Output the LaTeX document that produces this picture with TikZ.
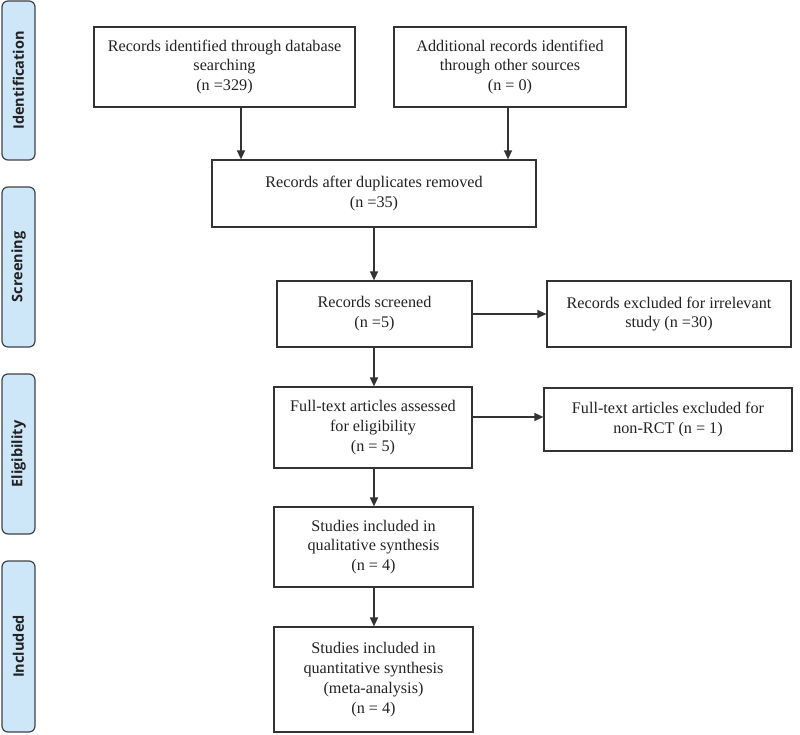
\documentclass[tikz,border=0pt]{standalone}
\usepackage{fontspec}
\setmainfont{Liberation Serif}
\newfontfamily\sidefont{Open Sans}
\usetikzlibrary{arrows.meta}
\definecolor{linegray}{HTML}{333333}
\definecolor{textgray}{HTML}{222222}
\definecolor{sideblue}{HTML}{CDE6F8}
\definecolor{sideedge}{HTML}{3F4348}
\begin{document}
\begin{tikzpicture}[x=1pt,y=-1pt,
  box/.style={draw=linegray, line width=1.2pt, rectangle, align=center,
    inner sep=0pt, font=\fontsize{16.2}{19.8}\selectfont, text=textgray},
  sidebox/.style={draw=sideedge, fill=sideblue, line width=1.2pt, rounded corners=6pt,
    minimum height=33pt, inner sep=0pt, rotate=90,
    font=\sidefont\bfseries\fontsize{14.5}{16}\selectfont, text=textgray},
  arr/.style={draw=linegray, line width=1.4pt, -{Triangle[length=9pt,width=8pt]}}]
\useasboundingbox (0,0) rectangle (800,735);
% side labels (rotated: width runs vertically)
\node[sidebox, minimum width=159pt] (sid) at (18.5,80.5) {Identification};
\node[sidebox, minimum width=160pt] (sscr) at (18.5,267) {Screening};
\node[sidebox, minimum width=160pt] (selg) at (18.5,454) {Eligibility};
\node[sidebox, minimum width=171pt] (sinc) at (18.5,646.5) {Included};
% boxes
\node[box, minimum width=261pt, minimum height=80pt] (b1) at (224.5,67)
  {Records identified through database\\searching\\(n =329)};
\node[box, minimum width=232pt, minimum height=80pt] (b2) at (510,67)
  {Additional records identified\\through other sources\\(n = 0)};
\node[box, minimum width=324pt, minimum height=67pt] (b3) at (374,193.5)
  {Records after duplicates removed\\(n =35)};
\node[box, minimum width=195pt, minimum height=66pt] (b4) at (374.5,314)
  {Records screened\\(n =5)};
\node[box, minimum width=244pt, minimum height=66pt] (b5) at (669,314)
  {Records excluded for irrelevant\\study (n =30)};
\node[box, minimum width=198pt, minimum height=81pt] (b6) at (373,427.5)
  {Full-text articles assessed\\for eligibility\\(n = 5)};
\node[box, minimum width=248pt, minimum height=63pt] (b7) at (668,419.5)
  {Full-text articles excluded for\\non-RCT (n = 1)};
\node[box, minimum width=199pt, minimum height=80pt] (b8) at (373.5,547)
  {Studies included in\\qualitative synthesis\\(n = 4)};
\node[box, minimum width=199pt, minimum height=105pt] (b9) at (373.5,679.5)
  {Studies included in\\quantitative synthesis\\(meta-analysis)\\(n = 4)};
% connector guides
\coordinate (x1) at (241,0);
\coordinate (x2) at (508,0);
\coordinate (xm) at (374,0);
\coordinate (y6) at (0,417);
% connectors
\draw[arr] (x1 |- b1.south) -- (x1 |- b3.north);
\draw[arr] (x2 |- b2.south) -- (x2 |- b3.north);
\draw[arr] (xm |- b3.south) -- (xm |- b4.north);
\draw[arr] (b4.east) -- (b5.west);
\draw[arr] (xm |- b4.south) -- (xm |- b6.north);
\draw[arr] (b6.east |- y6) -- (b7.west |- y6);
\draw[arr] (xm |- b6.south) -- (xm |- b8.north);
\draw[arr] (xm |- b8.south) -- (xm |- b9.north);
\end{tikzpicture}
\end{document}
